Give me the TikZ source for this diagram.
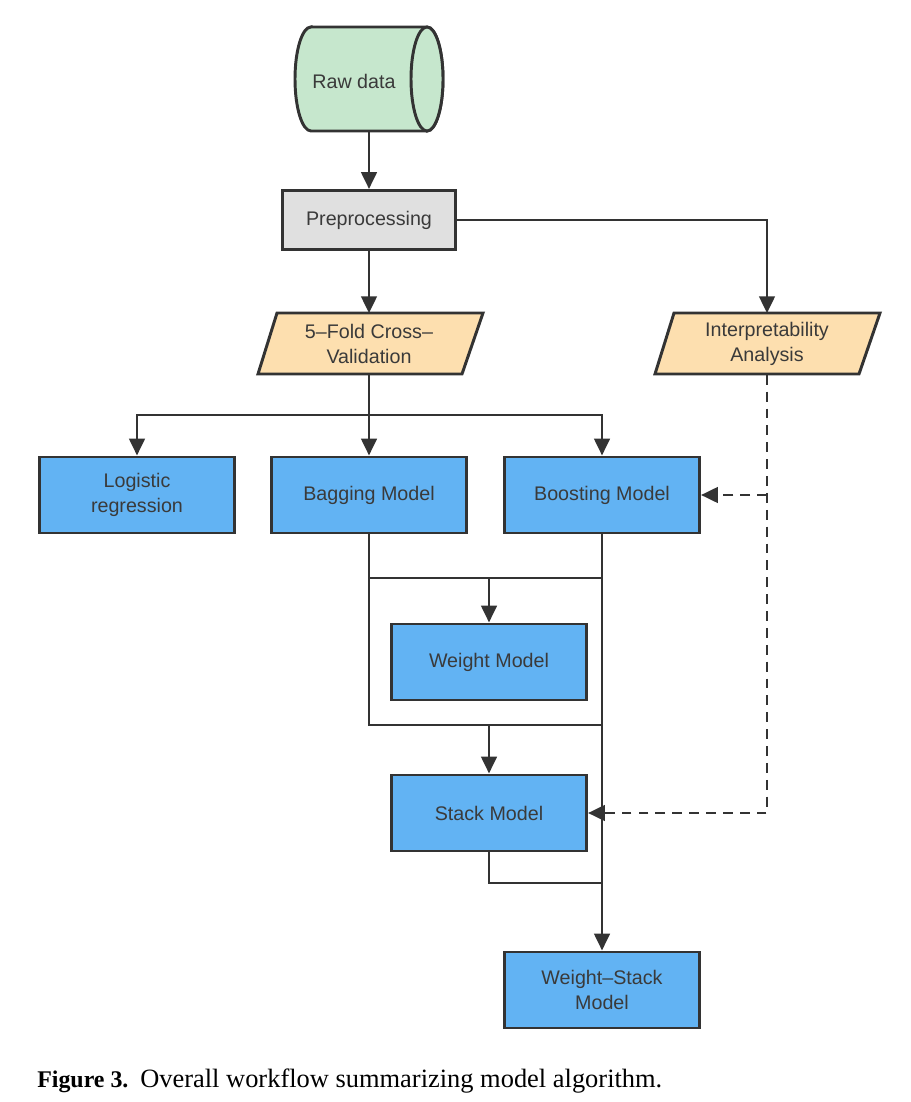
\documentclass[tikz,border=0pt]{standalone}
\usepackage{fontspec}
\setmainfont{Liberation Serif}
\newfontfamily\nodefont{Liberation Sans}
\usetikzlibrary{arrows.meta}
\definecolor{ln}{HTML}{333333}
\definecolor{txt}{HTML}{3A3A3A}
\definecolor{greenf}{HTML}{C6E7CD}
\definecolor{grayf}{HTML}{E0E0E0}
\definecolor{peach}{HTML}{FDDFAF}
\definecolor{bluef}{HTML}{62B3F3}
\tikzset{
  base/.style={inner sep=0pt, align=center, text=txt, font=\nodefont\fontsize{14}{17.5}\selectfont},
  model/.style={base, draw=ln, line width=2.1pt, fill=bluef, minimum width=4.875cm, minimum height=1.9cm},
  prebox/.style={base, draw=ln, line width=2.1pt, fill=grayf, minimum width=4.325cm, minimum height=1.475cm},
  para/.style={base, minimum width=5.2cm, minimum height=1.525cm},
  conn/.style={draw=ln, line width=2.1pt},
  tip/.style={-{Triangle[length=12pt,width=11pt]}},
  arr/.style={conn, tip},
  dsh/.style={conn, dash pattern=on 7pt off 5pt},
}
\begin{document}
\begin{tikzpicture}[x=0.025cm,y=-0.025cm]
\useasboundingbox (0,0) rectangle (910,1102);
% raw data cylinder
\draw[ln, line width=2.1pt, fill=greenf] (311,27) -- (427,27)
  arc[start angle=90, end angle=-90, x radius=0.4cm, y radius=1.3cm]
  -- (311,131)
  arc[start angle=270, end angle=90, x radius=0.4cm, y radius=1.3cm] -- cycle;
\draw[ln, line width=2.1pt, fill=greenf] (427,79) ellipse [x radius=0.4cm, y radius=1.3cm];
\node[base, minimum width=3.7cm, minimum height=2.6cm] (raw) at (369,79) {};
\node[base] (rawtxt) at (354,81) {Raw data};
% preprocessing
\node[prebox] (pre) at (369,220) {Preprocessing};
% parallelograms
\draw[ln, line width=2.1pt, fill=peach] (277,313) -- (483,313) -- (462,374) -- (258,374) -- cycle;
\node[para] (cv) at (369,344) {5–Fold Cross–\\Validation};
\draw[ln, line width=2.1pt, fill=peach] (674,313) -- (880,313) -- (859,374) -- (655,374) -- cycle;
\node[para] (interp) at (767,344) {Interpretability\\Analysis};
% models
\node[model] (logit) at (137,495) {Logistic\\regression};
\node[model] (bag) at (369,495) {Bagging Model};
\node[model] (boost) at (602,495) {Boosting Model};
\node[model] (weight) at (489,662) {Weight Model};
\node[model] (stack) at (489,813) {Stack Model};
\node[model] (ws) at (602,990) {Weight–Stack\\Model};
% coordinates
\coordinate (split) at (369,415);
\coordinate (a1) at (369,578);
\coordinate (b1) at (602,578);
\coordinate (wtop) at (489,578);
\coordinate (a2) at (369,725);
\coordinate (b2) at (602,725);
\coordinate (stop) at (489,725);
\coordinate (c3) at (602,883);
\coordinate (d1) at (767,495);
% connectors
\draw[arr] (raw.south) -- (pre.north);
\draw[arr] (pre.south) -- (cv.north);
\draw[arr] (pre.east) -| (interp.north);
\draw[conn] (cv.south) -- (split);
\draw[arr] (split) -| (logit.north);
\draw[arr] (split) -| (boost.north);
\draw[arr] (split) -- (bag.north);
\draw[conn] (bag.south) -- (a2) -- (b2);
\draw[conn] (a1) -- (b1);
\draw[arr] (wtop) -- (weight.north);
\draw[arr] (stop) -- (stack.north);
\draw[arr] (boost.south) -- (ws.north);
\draw[conn] (stack.south) |- (c3);
\draw[dsh, tip] (interp.south) |- (stack.east);
\draw[dsh, tip] (d1) -- (boost.east);
% caption
\node[anchor=base west, inner sep=0pt, font=\bfseries\fontsize{17}{20}\selectfont] (cap1) at (37,1087) {Figure 3.};
\node[anchor=base west, inner sep=0pt, font=\fontsize{18.8}{22}\selectfont] (cap2) at (140,1087) {Overall workflow summarizing model algorithm.};
\end{tikzpicture}
\end{document}
